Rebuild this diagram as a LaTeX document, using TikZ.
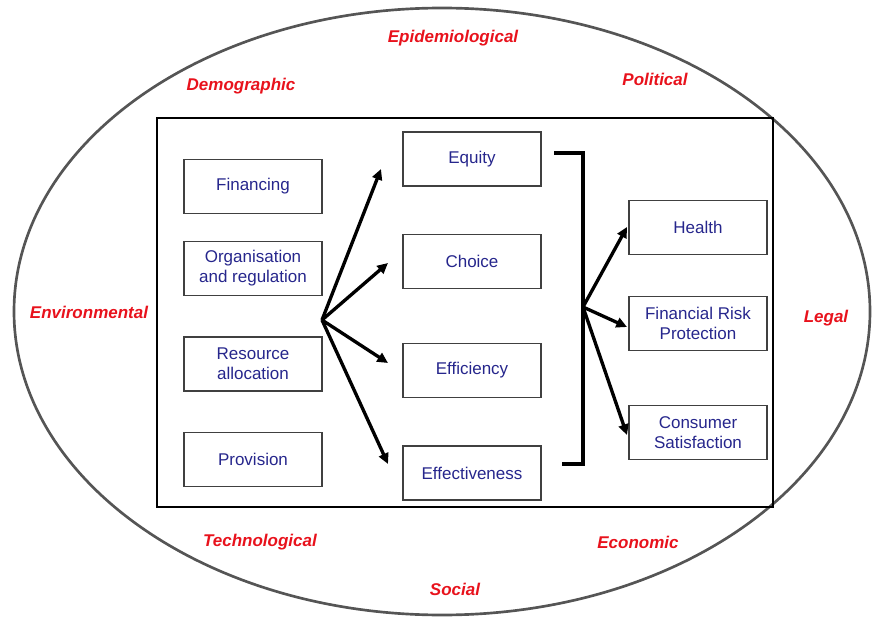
\documentclass[tikz,border=0pt]{standalone}
\usepackage{fontspec}
\setmainfont{Liberation Sans}
\usetikzlibrary{arrows.meta}
\definecolor{fntext}{RGB}{38,38,140}
\definecolor{envred}{RGB}{232,18,28}
\definecolor{rimgray}{RGB}{85,85,85}

\begin{document}
\begin{tikzpicture}[x=0.75pt,y=0.75pt,yscale=-1,xscale=1,
	fn/.style={draw=black!75,line width=1.1pt,text=fntext,minimum width=103.5pt,minimum height=40.5pt,inner sep=0pt,align=center,font=\fontsize{12.75}{15}\selectfont},
	env/.style={text=envred,inner sep=0.75pt,font=\fontsize{12.75}{15}\selectfont\bfseries\itshape},
	arr/.style={line width=2.5pt,-{Triangle[length=8pt,width=7.5pt]}}]
	\useasboundingbox (0,0) rectangle (872,617);

	%Ellipse
	\draw [color=rimgray,line width=2pt] (442,311.5) ellipse [x radius=428, y radius=303.5];
	%Rectangle
	\draw [line width=1.5pt] (157,118) rectangle (773,507);

	% Text Node
	\node (epi) at (453,38) [env] {Epidemiological};
	% Text Node
	\node (demo) at (241,86) [env] {Demographic};
	% Text Node
	\node (poli) at (655,79) [env] {Political};
	% Text Node
	\node (envi) at (89,312) [env] {Environmental};
	% Text Node
	\node (legal) at (826,318) [env] {Legal};
	% Text Node
	\node (tech) at (260,542) [env] {Technological};
	% Text Node
	\node (econ) at (638,542) [env] {Economic};
	% Text Node
	\node (soc) at (455,589) [env] {Social};

	% Functions
	\node (financing) at (253,186.5) [fn] {Financing};
	\node (organisation) at (253,268.5) [fn] {Organisation\\and regulation};
	\node (resource) at (253,364) [fn] {Resource\\allocation};
	\node (provision) at (253,459.5) [fn] {Provision};

	% Intermediate goals
	\node (equity) at (472,159) [fn] {Equity};
	\node (choice) at (472,261.5) [fn] {Choice};
	\node (efficiency) at (472,370.5) [fn] {Efficiency};
	\node (effectiveness) at (472,473) [fn] {Effectiveness};

	% Final goals
	\node (health) at (698,227.5) [fn] {Health};
	\node (risk) at (698,323.5) [fn] {Financial Risk\\Protection};
	\node (consumer) at (698,432.5) [fn] {Consumer\\Satisfaction};

	\coordinate (forkL) at (322,320);
	\coordinate (forkR) at (583,307);
	\coordinate (tipEq) at (381,169);
	\coordinate (tipCh) at (388,263);
	\coordinate (tipEfc) at (388,363);
	\coordinate (tipEff) at (388,464);
	\coordinate (tipHe) at (627,227);
	\coordinate (tipRi) at (627,327);
	\coordinate (tipCo) at (627,435);

	%Straight Lines
	\draw [arr] (forkL) -- (tipEq);
	\draw [arr] (forkL) -- (tipCh);
	\draw [arr] (forkL) -- (tipEfc);
	\draw [arr] (forkL) -- (tipEff);
	%Bracket
	\draw [line width=2.5pt] (554,153) -- (583,153) -- (583,464) -- (562,464);
	%Straight Lines
	\draw [arr] (forkR) -- (tipHe);
	\draw [arr] (forkR) -- (tipRi);
	\draw [arr] (forkR) -- (tipCo);
\end{tikzpicture}
\end{document}
